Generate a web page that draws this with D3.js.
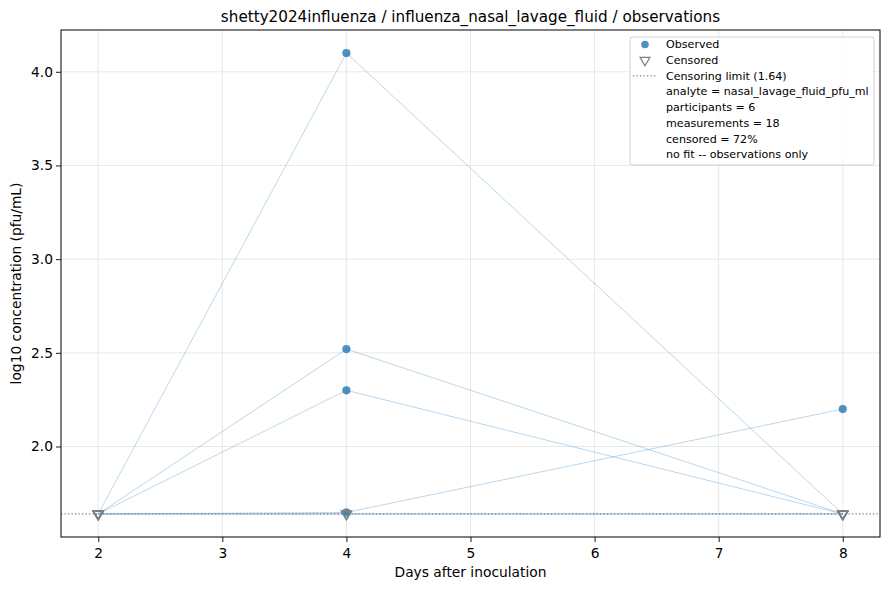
<!DOCTYPE html>
<html>
<head>
<meta charset="UTF-8">
<script src="https://d3js.org/d3.v7.min.js"></script>
<style>
  body { margin: 0; background: #fff; }
  svg { font-family: "DejaVu Sans", sans-serif; }
</style>
</head>
<body>
<svg id="chart" width="889" height="590"></svg>
<script>
  // data
  const days = [2, 4, 8];
  const participants = ["p1", "p2", "p3", "p4", "p5", "p6"];
  const values = [
    [1.64, 4.10, 1.64],
    [1.64, 2.52, 1.64],
    [1.64, 2.30, 1.64],
    [1.64, 1.648, 2.20],
    [1.64, 1.64, 1.64],
    [1.64, 1.64, 1.64]
  ];
  const censored = [
    [1, 0, 1],
    [1, 0, 1],
    [1, 0, 1],
    [1, 0, 0],
    [1, 1, 1],
    [1, 1, 1]
  ];
  const censorLimit = 1.64;
  const xTicks = [2, 3, 4, 5, 6, 7, 8];
  const yTicks = [2.0, 2.5, 3.0, 3.5, 4.0];
  const legendInfo = [
    "analyte = nasal_lavage_fluid_pfu_ml",
    "participants = 6",
    "measurements = 18",
    "censored = 72%",
    "no fit -- observations only"
  ];

  const margin = { top: 30, right: 9, bottom: 53, left: 61 };
  const width = 889 - margin.left - margin.right;
  const height = 590 - margin.top - margin.bottom;

  const svg = d3.select('#chart');
  const g = svg.append('g').attr('transform', `translate(${margin.left},${margin.top})`);

  const x = d3.scaleLinear().domain([1.7, 8.3]).range([0, width]);
  const y = d3.scaleLinear().domain([1.517, 4.223]).range([height, 0]);

  // grid
  g.append('g').selectAll('line').data(xTicks).join('line')
    .attr('x1', d => x(d)).attr('x2', d => x(d))
    .attr('y1', 0).attr('y2', height)
    .attr('stroke', '#e3e3e3').attr('stroke-width', 0.8);
  g.append('g').selectAll('line').data(yTicks).join('line')
    .attr('x1', 0).attr('x2', width)
    .attr('y1', d => y(d)).attr('y2', d => y(d))
    .attr('stroke', '#e3e3e3').attr('stroke-width', 0.8);

  // participant lines
  const rows = participants.map((p, i) => days.map((d, j) => ({
    day: d, value: values[i][j], cens: censored[i][j]
  })));
  const line = d3.line().x(d => x(d.day)).y(d => y(d.value));
  g.append('g').selectAll('path').data(rows).join('path')
    .attr('d', line)
    .attr('fill', 'none')
    .attr('stroke', '#4a94cc')
    .attr('stroke-opacity', 0.42)
    .attr('stroke-width', 0.9);

  // censoring limit
  g.append('line')
    .attr('x1', 0).attr('x2', width)
    .attr('y1', y(censorLimit)).attr('y2', y(censorLimit))
    .attr('stroke', '#808080').attr('stroke-width', 1.3)
    .attr('stroke-dasharray', '1.3,2.2');

  const pts = rows.flat();

  // observed
  g.append('g').selectAll('circle').data(pts.filter(d => !d.cens)).join('circle')
    .attr('cx', d => x(d.day)).attr('cy', d => y(d.value))
    .attr('r', 4.1)
    .attr('fill', '#1f77b4').attr('fill-opacity', 0.8);

  // censored
  const tri = d3.symbol().type(d3.symbolTriangle).size(42);
  g.append('g').selectAll('path').data(pts.filter(d => d.cens)).join('path')
    .attr('d', tri)
    .attr('transform', d => `translate(${x(d.day)},${y(d.value)}) rotate(180)`)
    .attr('fill', 'none')
    .attr('stroke', '#7f7f7f')
    .attr('stroke-width', 1.4);

  // axes
  const xAxis = g.append('g').attr('transform', `translate(0,${height})`)
    .call(d3.axisBottom(x).tickValues(xTicks).tickFormat(d3.format('d')).tickSizeOuter(0).tickSize(5));
  const yAxis = g.append('g')
    .call(d3.axisLeft(y).tickValues(yTicks).tickFormat(d3.format('.1f')).tickSizeOuter(0).tickSize(5));
  [xAxis, yAxis].forEach(a => {
    a.select('.domain').remove();
    a.selectAll('text').attr('font-size', 13.8).attr('fill', '#000').attr('font-family', 'DejaVu Sans');
    a.selectAll('line').attr('stroke', '#000').attr('stroke-width', 0.9);
  });
  xAxis.selectAll('text').attr('dy', '0.95em');

  g.append('rect').attr('width', width).attr('height', height)
    .attr('fill', 'none').attr('stroke', '#000').attr('stroke-width', 1);

  // labels
  svg.append('text')
    .attr('x', margin.left + width / 2).attr('y', 22)
    .attr('text-anchor', 'middle').attr('font-size', 15.2)
    .text('shetty2024influenza / influenza_nasal_lavage_fluid / observations');
  svg.append('text')
    .attr('x', margin.left + width / 2).attr('y', 577)
    .attr('text-anchor', 'middle').attr('font-size', 13.8)
    .text('Days after inoculation');
  svg.append('text')
    .attr('transform', `translate(21,${margin.top + height / 2}) rotate(-90)`)
    .attr('text-anchor', 'middle').attr('font-size', 13.8)
    .text('log10 concentration (pfu/mL)');

  // legend
  const lg = svg.append('g').attr('transform', 'translate(630,37)');
  lg.append('rect').attr('width', 244).attr('height', 128).attr('rx', 2.5)
    .attr('fill', '#fff').attr('fill-opacity', 0.8)
    .attr('stroke', '#d0d0d0').attr('stroke-width', 1);
  const rowY = i => 7.5 + i * 15.7;
  lg.append('circle').attr('cx', 15).attr('cy', rowY(0)).attr('r', 3.8)
    .attr('fill', '#1f77b4').attr('fill-opacity', 0.8);
  lg.append('path').attr('d', tri)
    .attr('transform', `translate(15,${rowY(1)}) rotate(180)`)
    .attr('fill', 'none').attr('stroke', '#7f7f7f').attr('stroke-width', 1.2);
  lg.append('line').attr('x1', 3).attr('x2', 27).attr('y1', rowY(2)).attr('y2', rowY(2))
    .attr('stroke', '#808080').attr('stroke-width', 1.3).attr('stroke-dasharray', '1.3,2.2');
  const labels = ['Observed', 'Censored', `Censoring limit (${censorLimit})`].concat(legendInfo);
  lg.selectAll('text.item').data(labels).join('text')
    .attr('class', 'item')
    .attr('x', 36).attr('y', (d, i) => rowY(i))
    .attr('dy', '0.35em')
    .attr('font-size', 11.1)
    .text(d => d);
</script>
</body>
</html>
